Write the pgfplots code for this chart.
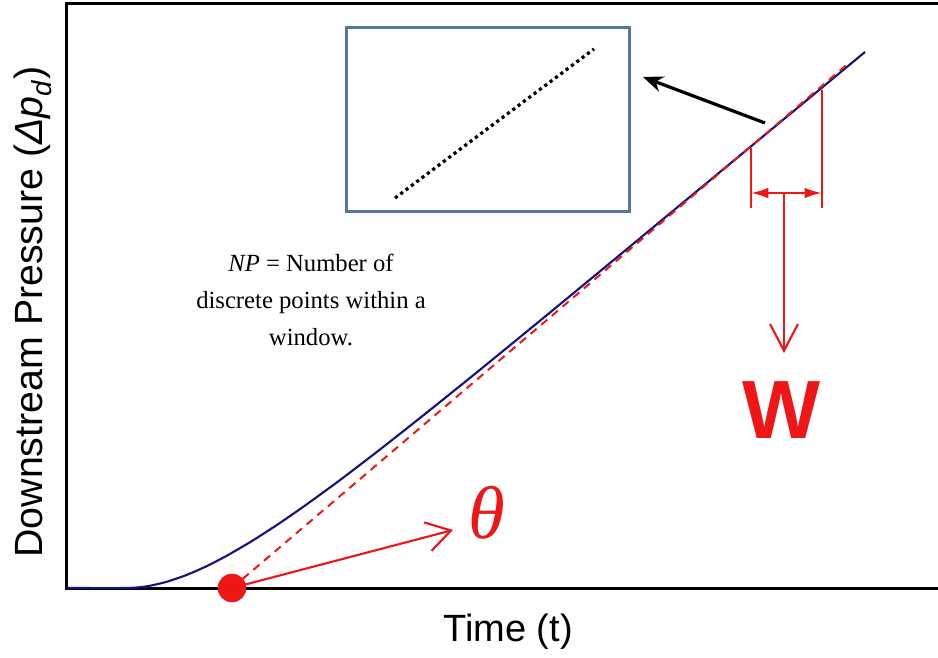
\documentclass[border=0pt]{standalone}
\usepackage{fontspec}
\setmainfont{Liberation Serif}
\newfontfamily\arial{Liberation Sans}
\usepackage{pgfplots}
\pgfplotsset{compat=1.18}
\usetikzlibrary{arrows.meta}

\definecolor{curveblue}{RGB}{20,20,128}
\definecolor{wred}{RGB}{238,22,22}
\definecolor{boxblue}{RGB}{80,120,170}

\begin{document}
\begin{tikzpicture}
\begin{axis}[
  x=0.75pt, y=0.75pt,
  xmin=67, xmax=938, ymin=0, ymax=584,
  hide axis, clip=false,
]
% frame: left, bottom and top sides
\draw[line width=2.25pt, line join=miter]
  (axis cs:938,0) -- (axis cs:67,0) -- (axis cs:67,584) -- (axis cs:938,584);

% measured pressure response
\addplot[curveblue, line width=1.6pt, smooth, tension=0.4] coordinates {
  (67,0) (127,0) (147,1.7) (167,6.3) (187,13.2) (207,22.0) (227,32.4)
  (252,47.0) (277,63.1) (302,80.3) (337,105.7) (377,136.2) (427,175.6)
  (477,215.8) (550,275.5) (630,341.5) (720,416.0) (865,536)
};

% fitted straight line (dashed)
\addplot[wred, line width=1.5pt, dash pattern=on 6pt off 4.5pt] coordinates {
  (232,0) (850,526)
};

% intercept point
\addplot[only marks, mark=*, mark size=10.5pt, wred, mark options={draw=wred, fill=wred}] coordinates {
  (232,0)
};

% inset: discrete points
\draw[boxblue, line width=2.25pt] (axis cs:346,560) rectangle (axis cs:629,376);
\addplot[black, line width=2.4pt, dash pattern=on 2.4pt off 2.6pt] coordinates {
  (395,390) (594,539)
};
\draw[line width=2.4pt, -{Stealth[length=15pt, width=12pt]}]
  (axis cs:765,465) -- (axis cs:643,511);

% theta annotation
\draw[wred, line width=1.6pt, -{Straight Barb[length=18pt, width=22pt, line width=1.6pt]}]
  (axis cs:232,0) -- (axis cs:453,58);
\node[text=wred, font=\itshape\fontsize{56}{60}\selectfont] at (axis cs:487,75) {θ};

% window annotation
\draw[wred, line width=1.8pt] (axis cs:751,440) -- (axis cs:751,380);
\draw[wred, line width=1.8pt] (axis cs:822,498) -- (axis cs:822,380);
\draw[wred, line width=1.8pt, {Latex[length=13pt, width=8pt]}-{Latex[length=13pt, width=8pt]}]
  (axis cs:751,395) -- (axis cs:822,395);
\draw[wred, line width=1.8pt, -{Straight Barb[length=20pt, width=21pt, line width=1.6pt]}]
  (axis cs:784,395) -- (axis cs:784,235);
\node[text=wred, font=\arial\bfseries\fontsize{62}{70}\selectfont] at (axis cs:782,178) {W};

% definition text
\node[align=center, font=\fontsize{18.5}{28}\selectfont] at (axis cs:311,288)
  {\textit{NP} = Number of\\discrete points within a\\window.};

% axis titles
\node[rotate=90, font=\arial\fontsize{29.5}{34}\selectfont] at (axis cs:33,276)
  {Downstream Pressure (\textit{Δp}\textsubscript{\textit{d}})};
\node[font=\arial\fontsize{28.5}{32}\selectfont] at (axis cs:508,-44) {Time (t)};

\coordinate (bbSW) at (axis cs:0,-69);
\coordinate (bbNE) at (axis cs:938,588);
\end{axis}
\pgfresetboundingbox
\path (bbSW) rectangle (bbNE);
\end{tikzpicture}
\end{document}
